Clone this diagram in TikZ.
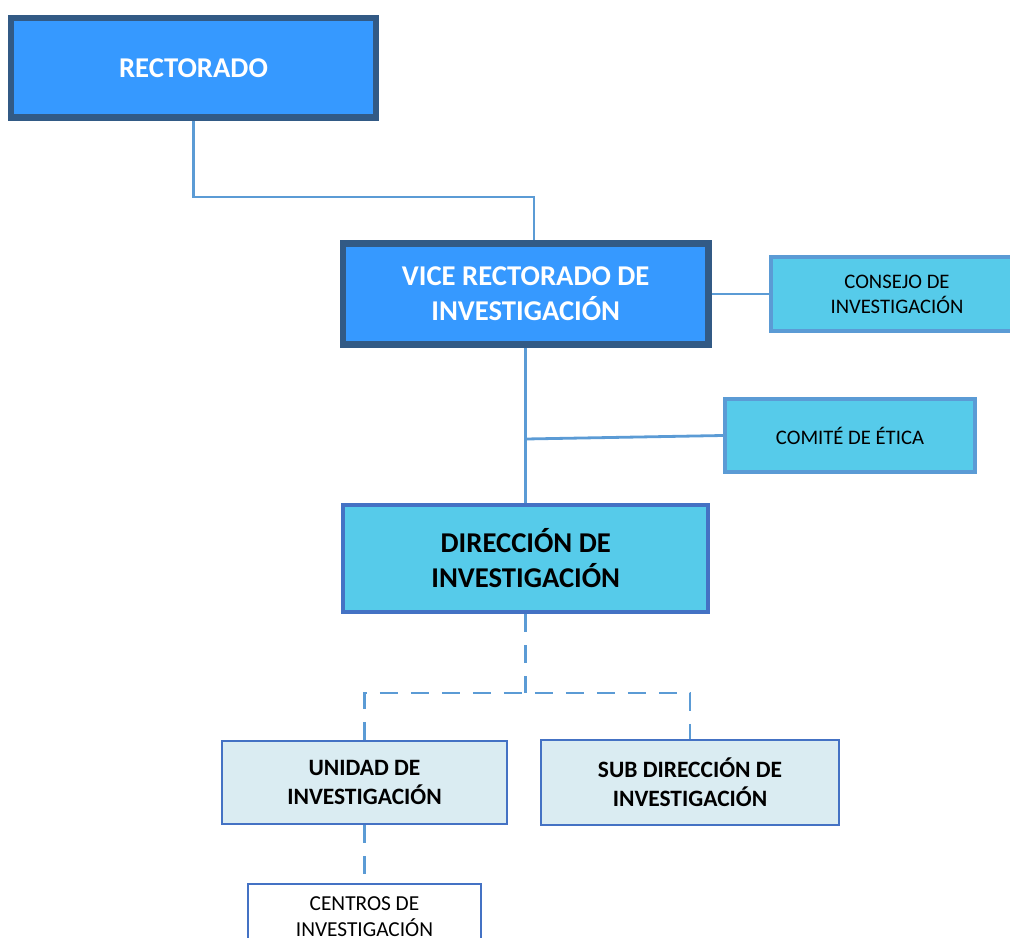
\documentclass[tikz,border=0pt]{standalone}
\usepackage{fontspec}
\setmainfont{Carlito}
\definecolor{darkframe}{RGB}{50,90,133}
\definecolor{brightblue}{RGB}{54,153,255}
\definecolor{skyfill}{RGB}{86,203,234}
\definecolor{linkblue}{RGB}{91,155,213}
\definecolor{midframe}{RGB}{68,114,196}
\definecolor{palefill}{RGB}{218,236,242}
\tikzset{
  topbox/.style={draw=darkframe, fill=brightblue, line width=4.7pt, text=white,
    font=\bfseries\fontsize{21.5}{26.5}\selectfont, align=center, inner sep=0pt},
  sidebox/.style={draw=linkblue, fill=skyfill, line width=3pt, text=black,
    font=\fontsize{15.5}{18.75}\selectfont, align=center, inner sep=0pt},
  dirbox/.style={draw=midframe, fill=skyfill, line width=3pt, text=black,
    font=\bfseries\fontsize{21.5}{26.25}\selectfont, align=center, inner sep=0pt},
  unitbox/.style={draw=midframe, fill=palefill, line width=1.9pt, text=black,
    font=\bfseries\fontsize{17.6}{22}\selectfont, align=center, inner sep=0pt},
  centrebox/.style={draw=midframe, fill=white, line width=1.6pt, text=black,
    font=\fontsize{16}{19.5}\selectfont, align=center, inner sep=0pt},
  link/.style={draw=linkblue, line width=2.1pt},
  dashlink/.style={draw=linkblue, line width=2.1pt, dash pattern=on 13.5pt off 9.75pt}
}
\begin{document}
\begin{tikzpicture}[x=0.75pt,y=-0.75pt]
\useasboundingbox (0,0) rectangle (1010,938);
\clip (0,0) rectangle (1010,938);
% boxes
\node[topbox, minimum width=273.75pt, minimum height=74.6pt] (rect) at (193.5,67.75) {RECTORADO};
\node[topbox, minimum width=274.1pt, minimum height=75.75pt] (vice) at (525.75,294) {VICE RECTORADO DE\\INVESTIGACIÓN};
\node[sidebox, minimum width=189pt, minimum height=55.5pt] (consejo) at (897,294) {CONSEJO DE\\INVESTIGACIÓN};
\node[sidebox, minimum width=187.5pt, minimum height=54.75pt] (comite) at (850,435.5) {COMITÉ DE ÉTICA};
\node[dirbox, minimum width=273.4pt, minimum height=80.25pt] (dir) at (525.75,558.5) {DIRECCIÓN DE\\INVESTIGACIÓN};
\node[unitbox, minimum width=213.75pt, minimum height=62.25pt] (unidad) at (364.5,782.5) {UNIDAD DE\\INVESTIGACIÓN};
\node[unitbox, minimum width=223.5pt, minimum height=63.75pt] (sub) at (690,782.5) {SUB DIRECCIÓN DE\\INVESTIGACIÓN};
\node[centrebox, minimum width=174.75pt, minimum height=49.5pt] (centros) at (364.5,917) {CENTROS DE\\INVESTIGACIÓN};
% junction points
\coordinate (j1) at (534,197);
\coordinate (j3) at (525.75,439);
\coordinate (j4) at (525.75,693);
% solid connectors
\draw[link] (rect.south) |- (j1) -- (j1 |- vice.north);
\draw[link] (vice.east) -- (consejo.west);
\draw[link] (vice.south) -- (dir.north);
\draw[link] (j3) -- (comite.west);
% dashed connectors
\draw[dashlink] (dir.south) -- (j4);
\draw[dashlink] (unidad.north) -- (unidad.north |- j4) -- (sub.north |- j4) -- (sub.north);
\draw[dashlink] (unidad.south) -- (centros.north);
\end{tikzpicture}
\end{document}
